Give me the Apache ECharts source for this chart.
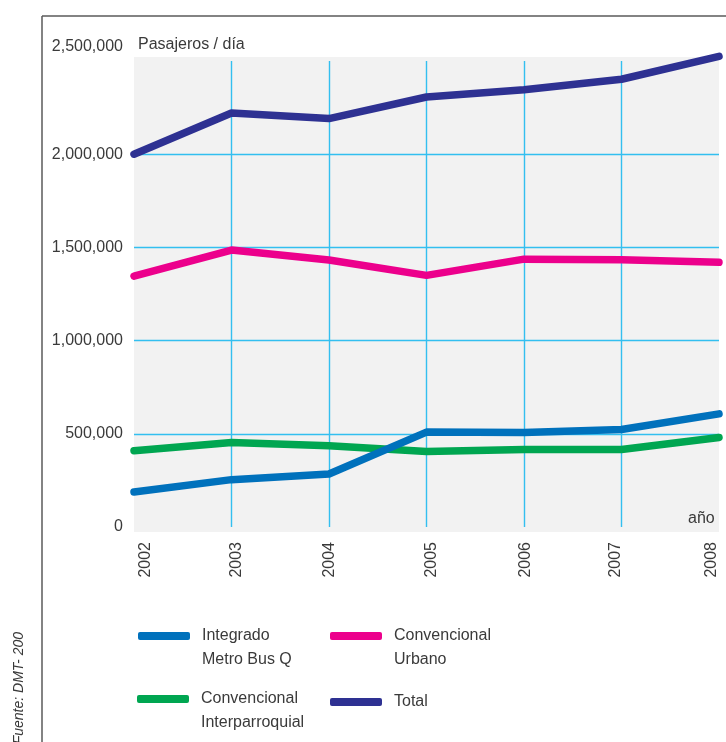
<!DOCTYPE html>
<html>
<head>
<meta charset="utf-8">
<script src="https://cdn.jsdelivr.net/npm/echarts@6/dist/echarts.min.js"></script>
<style>
html,body{margin:0;padding:0;background:#fff;}
#chart{width:726px;height:742px;}
</style>
</head>
<body>
<div id="chart"></div>
<script>
const years = ['2002','2003','2004','2005','2006','2007','2008'];
const integradoMetroBus = [188000, 254000, 284000, 509000, 507000, 523000, 607000];
const convencionalUrbano = [1346000, 1486000, 1432000, 1350000, 1437000, 1434000, 1420000];
const convencionalInterparroquial = [409000, 453000, 436000, 405000, 416000, 416000, 480000];
const total = [2000000, 2221000, 2191000, 2307000, 2346000, 2402000, 2525000];
const yTicks = [0, 500000, 1000000, 1500000, 2000000, 2500000];
const seriesNames = ['Integrado\nMetro Bus Q', 'Convencional\nUrbano', 'Convencional\nInterparroquial', 'Total'];
const seriesColors = ['#0071bc', '#ec008c', '#00a651', '#2e3192'];

const FONT = '"Liberation Sans", Arial, sans-serif';
const TXT = '#3a3a3a';
const GRID = '#33bff0';

const chart = echarts.init(document.getElementById('chart'), null, {renderer: 'canvas'});

function fmt(v) {
  return String(v).replace(/\B(?=(\d{3})+(?!\d))/g, ',');
}

const xLabelShift = [12, 5, 1, 5, 2, -6, -7];
const xRich = {};
xLabelShift.forEach((s, i) => {
  xRich['p' + i] = {
    fontFamily: FONT, fontSize: 16, color: TXT,
    padding: s >= 0 ? [2 * s, 0, 0, 0] : [0, 0, -2 * s, 0]
  };
});

const dataSets = [integradoMetroBus, convencionalUrbano, convencionalInterparroquial, total];

const legendPos = [
  {left: 138, top: 600},
  {left: 330, top: 600},
  {left: 137, top: 663},
  {left: 330, top: 690}
];

const legends = seriesNames.map((n, i) => ({
  data: [n],
  left: legendPos[i].left,
  top: legendPos[i].top,
  padding: 0,
  icon: 'roundRect',
  itemWidth: 52,
  itemHeight: 8,
  selectedMode: false,
  formatter: function (name) {
    return name.indexOf('\n') >= 0 ? '\n' + name : name;
  },
  textStyle: {
    fontFamily: FONT, fontSize: 16, color: TXT, lineHeight: 24,
    padding: [0, 0, 0, 7]
  }
}));

const option = {
  animation: false,
  backgroundColor: '#ffffff',
  textStyle: {fontFamily: FONT},
  grid: {left: 134, right: 7, top: 61, height: 466, containLabel: false},
  graphic: [
    {type: 'rect', z: -10, shape: {x: 134, y: 57, width: 585, height: 475}, style: {fill: '#f2f2f2'}, silent: true},
    {type: 'line', z: 10, shape: {x1: 42, y1: 16, x2: 726, y2: 16}, style: {stroke: '#5a5a5a', lineWidth: 1.5}},
    {type: 'line', z: 10, shape: {x1: 42, y1: 16, x2: 42, y2: 742}, style: {stroke: '#5a5a5a', lineWidth: 1.5}},
    {type: 'text', left: 138, top: 37, style: {text: 'Pasajeros / día', font: '16px ' + FONT, fill: TXT}},
    {type: 'text', x: 688, y: 511, style: {text: 'año', font: '16px ' + FONT, fill: TXT}},
    {type: 'text', x: 26, y: 632, rotation: Math.PI / 2, style: {text: 'Fuente: DMT- 200', font: 'italic 14px ' + FONT, fill: TXT, align: 'right', verticalAlign: 'bottom'}}
  ],
  legend: legends,
  xAxis: {
    type: 'category',
    data: years,
    boundaryGap: false,
    axisLine: {show: false},
    axisTick: {show: false},
    axisLabel: {
      rotate: 90,
      margin: 15,
      formatter: function (v, i) { return '{p' + i + '|' + v + '}'; },
      rich: xRich
    },
    splitLine: {show: true, lineStyle: {color: ['transparent', GRID, GRID, GRID, GRID, GRID, 'transparent'], width: 1.4}}
  },
  yAxis: {
    type: 'value',
    min: yTicks[0],
    max: yTicks[yTicks.length - 1],
    interval: yTicks[1] - yTicks[0],
    axisLine: {show: false},
    axisTick: {show: false},
    axisLabel: {
      margin: 11,
      formatter: function (v) {
        return v === yTicks[yTicks.length - 1] ? '{top|' + fmt(v) + '}' : '{n|' + fmt(v) + '}';
      },
      rich: {
        n: {fontFamily: FONT, fontSize: 16, color: TXT},
        top: {fontFamily: FONT, fontSize: 16, color: TXT, padding: [0, 0, 29, 0]}
      }
    },
    splitLine: {show: true, lineStyle: {color: ['transparent', GRID, GRID, GRID, GRID, 'transparent'], width: 1.4}}
  },
  series: seriesNames.map((n, i) => ({
    name: n,
    type: 'line',
    data: dataSets[i],
    showSymbol: false,
    symbol: 'none',
    clip: false,
    color: seriesColors[i],
    lineStyle: {width: 7.5, color: seriesColors[i], cap: 'round', join: 'round'},
    z: 5 + (i === 0 ? 2 : 0)
  }))
};

chart.setOption(option);
</script>
</body>
</html>
